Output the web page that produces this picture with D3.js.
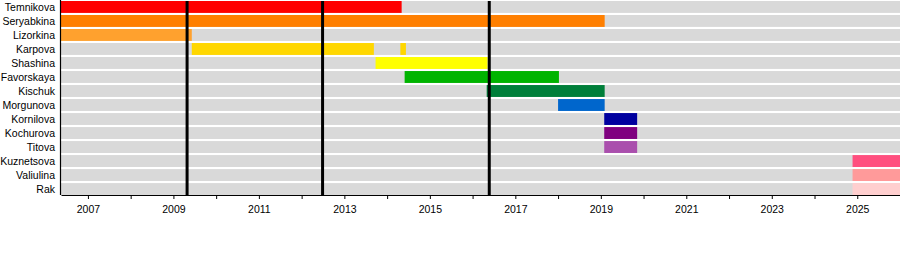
<!DOCTYPE html>
<meta charset="utf-8">
<head>
    <title>Members timeline</title>
    <script type="text/javascript" src="https://cdn.jsdelivr.net/npm/d3@7"></script>
    <style>
        body { margin: 0; background: #ffffff; }
        text { font-family: "Liberation Sans", Arial, sans-serif; }
    </style>
</head>
<body>
    <div id="chart"></div>
    <script>
        // members, top to bottom
        var members = ["Temnikova","Seryabkina","Lizorkina","Karpova","Shashina","Favorskaya",
                       "Kischuk","Morgunova","Kornilova","Kochurova","Titova","Kuznetsova","Valiulina","Rak"]
        var memberColors = ["#ff0000","#ff7f00","#ffa12e","#ffd700","#ffff00","#00b400",
                            "#007f3a","#0066cc","#00009f","#7f007f","#aa4fad","#ff4f7f","#ff9a9a","#ffcfcf"]
        // membership periods (decimal years), one row per member
        var periodMember = ["Temnikova","Seryabkina","Lizorkina","Karpova","Karpova","Shashina","Favorskaya",
                            "Kischuk","Morgunova","Kornilova","Kochurova","Titova","Kuznetsova","Valiulina","Rak"]
        var periodStart = [2006.37, 2006.37, 2006.37, 2009.43, 2014.31, 2013.73, 2014.41,
                           2016.33, 2018.0, 2019.08, 2019.08, 2019.08, 2024.89, 2024.89, 2024.89]
        var periodEnd   = [2014.34, 2019.09, 2009.43, 2013.69, 2014.44, 2016.35, 2018.02,
                           2019.09, 2019.09, 2019.85, 2019.85, 2019.85, 2026.0, 2026.0, 2026.0]
        // vertical markers (album releases)
        var markerYears = [2009.32, 2012.49, 2016.39]
        var yearDomain = [2006.37, 2026.0]
        var majorTicks = [2007,2009,2011,2013,2015,2017,2019,2021,2023,2025]
        var minorTicks = [2008,2010,2012,2014,2016,2018,2020,2022,2024]

        var width = 900, height = 270
        var plotLeft = 61, plotRight = 900, plotTop = 1, plotBottom = 195

        var svg = d3.select("#chart").append("svg")
          .attr("width", width)
          .attr("height", height)

        var x = d3.scaleLinear().domain(yearDomain).range([plotLeft, plotRight])
        var y = d3.scaleBand().domain(members).range([plotTop, plotBottom]).paddingInner(0.15).paddingOuter(0.0)

        // grey row backgrounds
        svg.append("g").selectAll("rect")
          .data(members)
          .enter().append("rect")
            .attr("x", plotLeft)
            .attr("y", d => y(d))
            .attr("width", plotRight - plotLeft)
            .attr("height", y.bandwidth())
            .attr("fill", "#d9d9d9")

        var periods = periodMember.map((m, i) => ({member: m, start: periodStart[i], end: periodEnd[i]}))
        svg.append("g").selectAll("rect")
          .data(periods)
          .enter().append("rect")
            .attr("x", d => x(d.start))
            .attr("y", d => y(d.member))
            .attr("width", d => x(d.end) - x(d.start))
            .attr("height", y.bandwidth())
            .attr("fill", d => memberColors[members.indexOf(d.member)])

        // markers
        svg.append("g").selectAll("line")
          .data(markerYears)
          .enter().append("line")
            .attr("x1", d => x(d)).attr("x2", d => x(d))
            .attr("y1", plotTop).attr("y2", plotBottom)
            .attr("stroke", "#000")
            .attr("stroke-width", 3)

        // labels
        svg.append("g").selectAll("text")
          .data(members)
          .enter().append("text")
            .attr("x", 55)
            .attr("y", d => y(d) + y.bandwidth() / 2)
            .attr("dy", "0.35em")
            .attr("text-anchor", "end")
            .attr("font-size", "10.5px")
            .attr("fill", "#000")
            .text(d => d)

        // bottom axis
        var xAxis = d3.axisBottom(x).tickValues(majorTicks).tickFormat(d3.format("d")).tickSize(4).tickSizeOuter(0)
        var axisG = svg.append("g")
          .attr("transform", "translate(0," + plotBottom + ")")
          .call(xAxis)
        axisG.select(".domain").attr("stroke", "#000").attr("stroke-width", 1.2)
        axisG.selectAll("text").attr("font-size", "10.5px").attr("font-family", "Liberation Sans, Arial, sans-serif")
          .attr("dy", "1.05em").attr("fill", "#000")
        svg.append("g")
          .attr("transform", "translate(0," + plotBottom + ")")
          .call(d3.axisBottom(x).tickValues(minorTicks).tickFormat("").tickSize(4).tickSizeOuter(0))
          .select(".domain").remove()

        // left axis line
        svg.append("line")
          .attr("x1", plotLeft - 0.5).attr("x2", plotLeft - 0.5)
          .attr("y1", 0).attr("y2", plotBottom)
          .attr("stroke", "#000")
          .attr("stroke-width", 1.2)
    </script>
</body>
</html>
